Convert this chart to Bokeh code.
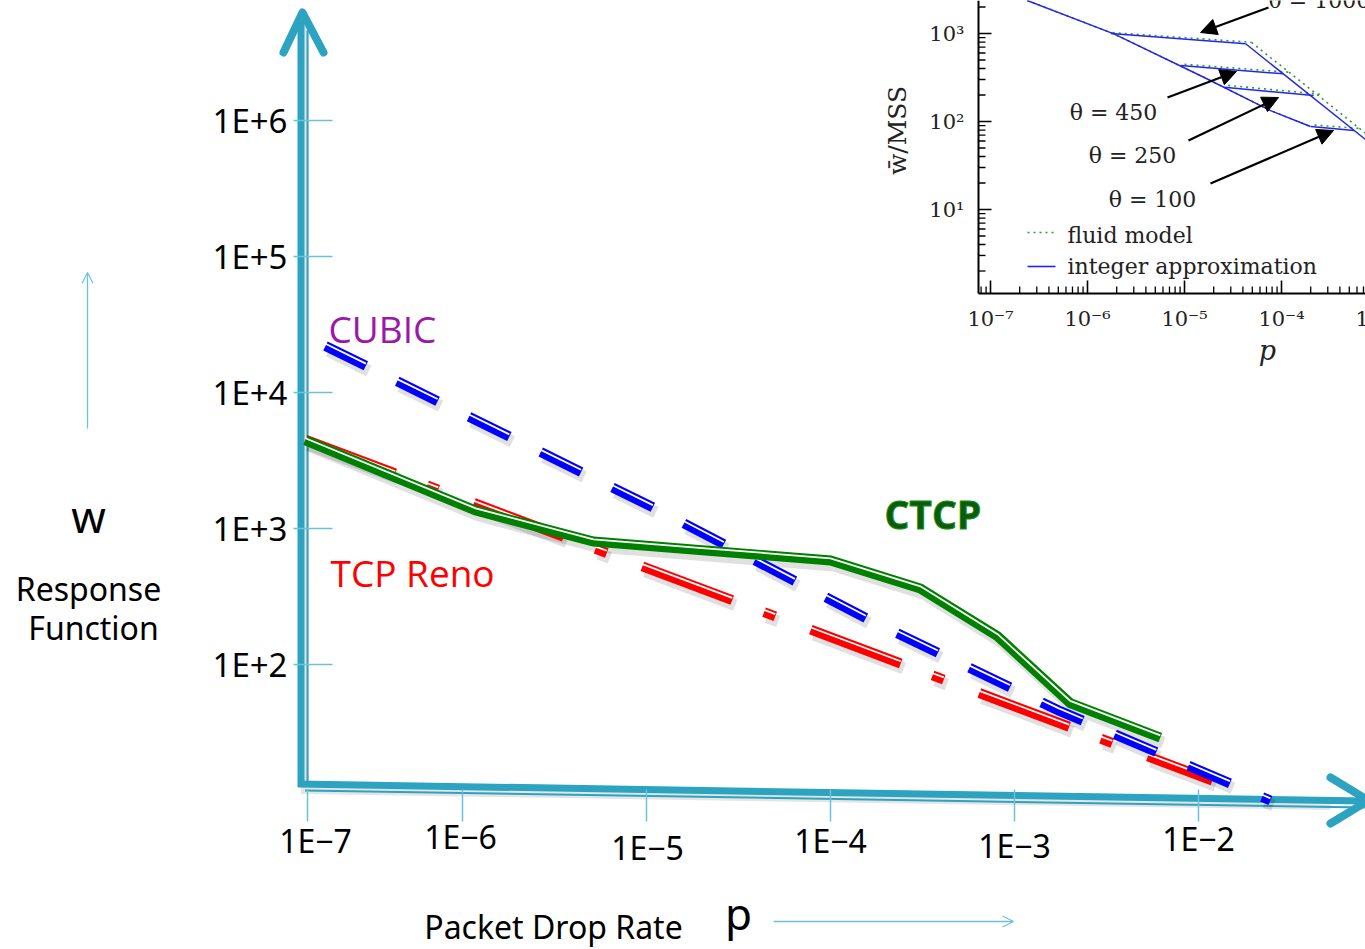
import numpy as np
from bokeh.plotting import figure
from bokeh.models import (Range1d, LinearScale, LogScale, ColumnDataSource,
                          Arrow, OpenHead, NormalHead)
from bokeh.core.properties import value
from bokeh.embed import file_html
from bokeh.resources import INLINE

W, H = 1365, 949

# ---------------- main chart: window w versus packet drop rate p ----------------
x_ticks = [1e-7, 1e-6, 1e-5, 1e-4, 1e-3, 1e-2]
x_tick_labels = ["1E−7", "1E−6", "1E−5", "1E−4", "1E−3", "1E−2"]
y_ticks = [1e2, 1e3, 1e4, 1e5, 1e6]
y_tick_labels = ["1E+2", "1E+3", "1E+4", "1E+5", "1E+6"]

cubic_p = [1.8e-7, 1.12e-5, 1.65e-4, 1.73e-3, 2.46e-2]
cubic_w = [22000, 1400, 211, 46, 10]

reno_p = [1.40e-7, 1.19e-2]
reno_w = [4500, 14]

ctcp_p = [1.40e-7, 1.18e-6, 5.15e-6, 2.09e-5, 1.0e-4, 3.08e-4, 8.1e-4, 2.01e-3, 6.2e-3]
ctcp_w = [4440, 1355, 802, 689, 582, 362, 161, 52, 29]

# ---------------- inset: mean window / MSS versus p ----------------
inset_x_ticks = [1e-7, 1e-6, 1e-5, 1e-4, 1e-3]
inset_x_labels = ["10⁻⁷", "10⁻⁶", "10⁻⁵", "10⁻⁴", "10⁻³"]
inset_y_ticks = [1e1, 1e2, 1e3]
inset_y_labels = ["10¹", "10²", "10³"]

base_p = [2.39e-7, 1.87e-6, 1.58e-5, 7.71e-5, 1.99e-4]
base_w = [2371, 991, 318, 133, 87.7]

theta = [1000, 450, 250, 100]
int_plateau_p = [[1.74e-6, 4.27e-5], [9.12e-6, 1.05e-4], [2.57e-5, 2.14e-4], [2.0e-4, 5.6e-4]]
int_plateau_w = [[1000, 764], [432, 348], [245, 197], [87.7, 79.1]]
int_drop_p = [4.27e-5, 1.0e-3]
int_drop_w = [764, 47.5]

fluid_plateau_p = [[1.82e-6, 4.9e-5], [1.0e-5, 1.2e-4], [2.82e-5, 2.51e-4], [2.19e-4, 6.6e-4]]
fluid_plateau_w = [[1023, 794], [447, 363], [257, 204], [91.2, 83.2]]
fluid_drop_p = [4.9e-5, 1.0e-3]
fluid_drop_w = [794, 56.2]

# ---------------- scales ----------------
X_DEC, X_REF = 184.0, 646.0      # px per decade, px of p = 1e-5
Y_DEC, Y_REF = 136.0, 528.0      # px per decade, px of w = 1e3 (from top)
IX_DEC, IX_REF = 97.0, 990.0     # inset: px per decade, px of p = 1e-7
IY_DEC, IY_REF = 88.0, 33.0      # inset: px per decade, px of w = 1e3

TEAL = "#2ba3c1"
TEAL_LIGHT = "#6cc2d8"

p = figure(width=W, height=H, x_axis_type="log", y_axis_type="log",
           x_range=Range1d(10 ** (-5 - X_REF / X_DEC), 10 ** (-5 + (W - X_REF) / X_DEC)),
           y_range=Range1d(10 ** (3 - (H - Y_REF) / Y_DEC), 10 ** (3 + Y_REF / Y_DEC)),
           x_axis_location=None, y_axis_location=None, toolbar_location=None,
           output_backend="svg", min_border=0, outline_line_color=None,
           background_fill_color="white", border_fill_color="white")
p.xgrid.visible = False
p.ygrid.visible = False

p.extra_x_ranges = {"sx": Range1d(0, W),
                    "ix": Range1d(10 ** (-7 - IX_REF / IX_DEC), 10 ** (-7 + (W - IX_REF) / IX_DEC))}
p.extra_y_ranges = {"sy": Range1d(H, 0),
                    "iy": Range1d(10 ** (3 - (H - IY_REF) / IY_DEC), 10 ** (3 + IY_REF / IY_DEC))}
p.extra_x_scales = {"sx": LinearScale(), "ix": LogScale()}
p.extra_y_scales = {"sy": LinearScale(), "iy": LogScale()}


def txt(xs, ys, texts, size, color="black", font="Noto Sans", align="center",
        baseline="middle", style="normal", angle=0.0, xr="sx", yr="sy", **kw):
    src = ColumnDataSource(dict(x=list(xs), y=list(ys), t=list(texts)))
    return p.text(x="x", y="y", text="t", source=src, text_font=value(font),
                  text_font_size=value(f"{size}px"), text_color=color,
                  text_align=align, text_baseline=baseline, text_font_style=style,
                  angle=angle, x_range_name=xr, y_range_name=yr, **kw)


def sx(vals, px):
    return [v * 10 ** (px / X_DEC) for v in vals]


def sy(vals, px):
    return [v * 10 ** (px / Y_DEC) for v in vals]


# ---------------- hand-drawn axes (pixel space) ----------------
AX_X = 300.5          # centre of the thick vertical stroke
AX_Y0, AX_Y1 = 783.5, 800.5   # x-axis centre at left / right end

# soft shadows of the axes
p.segment(x0=[AX_X + 3], y0=[AX_Y0 + 2], x1=[AX_X + 3], y1=[16], line_color="black",
          line_alpha=0.10, line_width=10, x_range_name="sx", y_range_name="sy")
p.segment(x0=[AX_X], y0=[AX_Y0 + 5], x1=[1330], y1=[AX_Y1 + 4], line_color="black",
          line_alpha=0.10, line_width=10, x_range_name="sx", y_range_name="sy")

# vertical axis: thick + thin stroke
p.segment(x0=[AX_X], y0=[AX_Y0 + 3], x1=[AX_X], y1=[14], line_color=TEAL,
          line_width=7, x_range_name="sx", y_range_name="sy")
p.segment(x0=[AX_X + 6.5], y0=[AX_Y0 + 3], x1=[AX_X + 6.5], y1=[30], line_color=TEAL,
          line_width=2, x_range_name="sx", y_range_name="sy")
p.multi_line(xs=[[283, 302, 323]], ys=[[52, 12, 52]], line_color=TEAL, line_width=8,
             line_cap="round", line_join="round", x_range_name="sx", y_range_name="sy")

# horizontal axis: thick + thin stroke
p.segment(x0=[AX_X - 3], y0=[AX_Y0], x1=[1364], y1=[AX_Y1], line_color=TEAL,
          line_width=7, x_range_name="sx", y_range_name="sy")
p.segment(x0=[AX_X + 4], y0=[AX_Y0 + 6.5], x1=[1364], y1=[AX_Y1 + 6.5], line_color=TEAL,
          line_width=2, x_range_name="sx", y_range_name="sy")
p.multi_line(xs=[[1330, 1368, 1330]], ys=[[777, 800, 823]], line_color=TEAL, line_width=8,
             line_cap="round", line_join="round", x_range_name="sx", y_range_name="sy")

# the first p tick sits on the axis origin
P_ORIGIN = 10 ** (-5 + (307 - X_REF) / X_DEC)
x_tick_pos = [max(t, P_ORIGIN) for t in x_ticks]

p.segment(x0=x_tick_pos, x1=x_tick_pos, y0=[789] * 6, y1=[821] * 6, line_color=TEAL_LIGHT,
          line_width=1.5, y_range_name="sy")
p.segment(x0=[293] * 5, x1=[332] * 5, y0=y_ticks, y1=y_ticks, line_color=TEAL_LIGHT,
          line_width=1.5, x_range_name="sx")

src_xl = ColumnDataSource(dict(x=x_tick_pos, y=[840] * 6, t=x_tick_labels,
                               dx=[8, -2, 1, 0, 0, 0], dy=[0, -4, 7, 0, 5, -2]))
p.text(x="x", y="y", text="t", source=src_xl, x_offset="dx", y_offset="dy",
       text_font=value("Noto Sans"), text_font_size=value("32px"), text_color="black",
       text_align="center", text_baseline="middle", y_range_name="sy")
txt([287] * 5, y_ticks, y_tick_labels, 33, align="right", yr="default")

# ---------------- curves ----------------
curves = [
    (reno_p, reno_w, "#ff0000", "96 34 12 38"),
    (cubic_p, cubic_w, "#0000ff", "45 35"),
    (ctcp_p, ctcp_w, "#008000", "solid"),
]
for xs, ys, col, dash in curves:
    p.line(sx(xs, 3), sy(ys, -5), line_color="black", line_alpha=0.12, line_width=12,
           line_dash=dash, line_cap="butt")
for xs, ys, col, dash in curves:
    p.line(xs, ys, line_color=col, line_width=10, line_dash=dash, line_cap="butt",
           line_join="miter")
    p.line(xs, sy(ys, 2.2), line_color="white", line_width=1.8, line_dash=dash,
           line_cap="butt", line_join="miter")

# ---------------- series names and axis titles ----------------
txt([328], [328], ["CUBIC"], 37, color="#9b19a8", font="Open Sans", align="left")
txt([330], [572], ["TCP Reno"], 37, color="#ff0000", font="Open Sans", align="left")
txt([884], [513], ["CTCP"], 39, color="#0e5a0e", font="Open Sans", align="left",
    style="bold", text_outline_color="#119211")

txt([88], [515], ["w"], 44)
txt([88], [588], ["Response"], 32)
txt([93], [627], ["Function"], 32)
txt([553], [926], ["Packet Drop Rate"], 32)
txt([738], [912], ["p"], 44)

p.add_layout(Arrow(end=OpenHead(size=11, line_color=TEAL_LIGHT, line_width=1.2),
                   x_start=87, y_start=428, x_end=87, y_end=272, line_color=TEAL_LIGHT,
                   line_width=1.3, x_range_name="sx", y_range_name="sy"))
p.add_layout(Arrow(end=OpenHead(size=11, line_color=TEAL_LIGHT, line_width=1.2),
                   x_start=773, y_start=921, x_end=1013, y_end=921, line_color=TEAL_LIGHT,
                   line_width=1.3, x_range_name="sx", y_range_name="sy"))

# ---------------- inset plot ----------------
SERIF = "DejaVu Serif"
IL, IB = 978, 293   # inset spine positions (px)

# curves: fluid model (dotted green) under integer approximation (blue)
fluid_xs = [base_p, fluid_drop_p] + fluid_plateau_p
fluid_ys = [base_w, fluid_drop_w] + fluid_plateau_w
p.multi_line(xs=fluid_xs, ys=fluid_ys, line_color="#2e9a2e", line_width=1.6,
             line_dash="2 4", x_range_name="ix", y_range_name="iy")
int_xs = [base_p, int_drop_p] + int_plateau_p
int_ys = [base_w, int_drop_w] + int_plateau_w
p.multi_line(xs=int_xs, ys=int_ys, line_color="#2424ee", line_width=1.5,
             x_range_name="ix", y_range_name="iy")

# spines
p.segment(x0=[IL, IL], y0=[0, IB], x1=[IL, W], y1=[IB, IB], line_color="black",
          line_width=2, x_range_name="sx", y_range_name="sy")

# inset ticks
y_lo = 10 ** (3 - (IB - IY_REF) / IY_DEC)
y_hi = 10 ** (3 + IY_REF / IY_DEC)
y_minor = [k * 10.0 ** e for e in range(0, 4) for k in range(2, 10)
           if y_lo < k * 10.0 ** e < y_hi]
p.segment(x0=[IL] * 3, x1=[IL + 13] * 3, y0=inset_y_ticks, y1=inset_y_ticks,
          line_color="black", line_width=1.6, x_range_name="sx", y_range_name="iy")
p.segment(x0=[IL] * len(y_minor), x1=[IL + 7] * len(y_minor), y0=y_minor, y1=y_minor,
          line_color="black", line_width=1.3, x_range_name="sx", y_range_name="iy")

x_lo = 10 ** (-7 - (IX_REF - IL) / IX_DEC)
x_hi = 10 ** (-7 + (W - IX_REF) / IX_DEC)
x_minor = [k * 10.0 ** e for e in range(-8, -2) for k in range(2, 10)
           if x_lo < k * 10.0 ** e < x_hi]
p.segment(x0=inset_x_ticks, x1=inset_x_ticks, y0=[IB] * 5, y1=[IB - 13] * 5,
          line_color="black", line_width=1.6, x_range_name="ix", y_range_name="sy")
p.segment(x0=x_minor, x1=x_minor, y0=[IB] * len(x_minor), y1=[IB - 7] * len(x_minor),
          line_color="black", line_width=1.3, x_range_name="ix", y_range_name="sy")

txt([964] * 3, inset_y_ticks, inset_y_labels, 21, color="#222", font=SERIF,
    align="right", yr="iy")
txt(inset_x_ticks, [318] * 5, inset_x_labels, 21, color="#222", font=SERIF, xr="ix")
txt([1267], [350], ["p"], 27, color="#222", font=SERIF, style="italic")
txt([897], [130], ["w̄/MSS"], 25, color="#222", font=SERIF, angle=np.pi / 2)

# theta annotations
txt([1113, 1132, 1152], [112, 155, 199], ["θ = 450", "θ = 250", "θ = 100"], 22,
    color="#222", font=SERIF)
txt([1268], [0], ["θ = 1000"], 22, color="#222", font=SERIF, align="left")
for xs0, ys0, xe, ye in [(1268, 7, 1200, 32), (1167, 97, 1236, 71),
                         (1188, 140, 1278, 97), (1210, 183, 1333, 130)]:
    p.add_layout(Arrow(end=NormalHead(size=16, fill_color="black", line_color="black"),
                       x_start=xs0, y_start=ys0, x_end=xe, y_end=ye, line_color="black",
                       line_width=2.2, x_range_name="sx", y_range_name="sy"))

# inset legend
p.segment(x0=[1027], x1=[1055], y0=[232], y1=[232], line_color="#2e9a2e", line_width=1.6,
          line_dash="2 4", x_range_name="sx", y_range_name="sy")
p.segment(x0=[1027], x1=[1055], y0=[266], y1=[266], line_color="#2424ee", line_width=1.6,
          x_range_name="sx", y_range_name="sy")
txt([1067, 1067], [235, 266], ["fluid model", "integer approximation"], 22,
    color="#222", font=SERIF, align="left")

open("out.html", "w").write(file_html(p, INLINE))
